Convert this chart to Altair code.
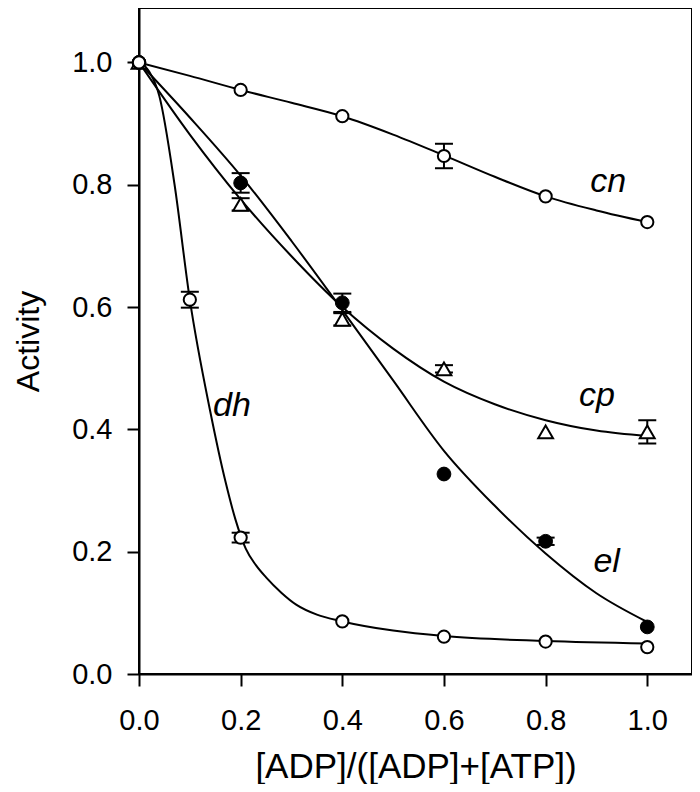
import altair as alt
import pandas as pd

# ---- measured data points ----
X_POINTS = [0.0, 0.2, 0.4, 0.6, 0.8, 1.0]
DH_X = [0.0, 0.1, 0.2, 0.4, 0.6, 0.8, 1.0]

CN_Y = [1.0, 0.955, 0.912, 0.847, 0.781, 0.739]
CN_ERR = [0, 0, 0, 0.020, 0, 0]
EL_Y = [1.0, 0.803, 0.607, 0.327, 0.217, 0.077]
EL_ERR = [0, 0.016, 0.015, 0, 0.006, 0]
CP_Y = [1.0, 0.768, 0.580, 0.499, 0.396, 0.396]
CP_ERR = [0, 0.010, 0.010, 0.006, 0, 0.019]
DH_Y = [1.0, 0.612, 0.223, 0.086, 0.061, 0.053, 0.044]
DH_ERR = [0, 0.013, 0.008, 0, 0, 0, 0]

# ---- fitted curves ----
FIT_X = [0.0, 0.1, 0.2, 0.3, 0.4, 0.5, 0.6, 0.7, 0.8, 0.9, 1.0]
CN_FIT = [1.0, 0.978, 0.955, 0.934, 0.912, 0.882, 0.848, 0.813, 0.781, 0.758, 0.739]
EL_FIT = [1.0, 0.910, 0.815, 0.708, 0.595, 0.480, 0.365, 0.275, 0.197, 0.132, 0.085]
CP_FIT = [1.0, 0.882, 0.776, 0.683, 0.600, 0.532, 0.478, 0.441, 0.415, 0.398, 0.389]
DH_FIT_X = [0.0, 0.02, 0.04, 0.07, 0.1, 0.14, 0.17, 0.19, 0.21, 0.23, 0.25, 0.28, 0.31,
            0.35, 0.4, 0.5, 0.6, 0.8, 1.0]
DH_FIT = [1.0, 0.985, 0.945, 0.80, 0.612, 0.43, 0.315, 0.252, 0.205, 0.178, 0.158, 0.133, 0.113,
          0.097, 0.086, 0.071, 0.062, 0.054, 0.050]

LABELS = ["cn", "cp", "el", "dh"]
LABEL_X = [0.923, 0.901, 0.920, 0.183]
LABEL_Y = [0.788, 0.438, 0.166, 0.422]

X_TICKS = [0.0, 0.2, 0.4, 0.6, 0.8, 1.0]
Y_TICKS = [0.0, 0.2, 0.4, 0.6, 0.8, 1.0]

# ---- tables ----
rows = []
for name, xs, ys, es in [("cn", X_POINTS, CN_Y, CN_ERR), ("el", X_POINTS, EL_Y, EL_ERR),
                         ("cp", X_POINTS, CP_Y, CP_ERR), ("dh", DH_X, DH_Y, DH_ERR)]:
    for xv, yv, ev in zip(xs, ys, es):
        rows.append({"series": name, "x": xv, "y": yv, "lo": yv - ev, "hi": yv + ev, "err": ev})
pts = pd.DataFrame(rows)
errs = pts[pts["err"] > 0]

fit_rows = []
for name, xs, ys in [("cn", FIT_X, CN_FIT), ("el", FIT_X, EL_FIT), ("cp", FIT_X, CP_FIT), ("dh", DH_FIT_X, DH_FIT)]:
    for xv, yv in zip(xs, ys):
        fit_rows.append({"series": name, "x": xv, "y": yv})
fits = pd.DataFrame(fit_rows)

labels = pd.DataFrame({"text": LABELS, "x": LABEL_X, "y": LABEL_Y})

xscale = alt.Scale(domain=[0, 1.088], nice=False, zero=False)
yscale = alt.Scale(domain=[0, 1.089], nice=False, zero=False)
xaxis = alt.Axis(values=X_TICKS, format=".1f", title="[ADP]/([ADP]+[ATP])", labelFlush=False)
yaxis = alt.Axis(values=Y_TICKS, format=".1f", title="Activity", labelFlush=False)

X = alt.X("x:Q", scale=xscale, axis=xaxis)
Y = alt.Y("y:Q", scale=yscale, axis=yaxis)

lines = alt.Chart(fits).mark_line(color="black", strokeWidth=2, interpolate="monotone").encode(
    x=X, y=Y, detail="series:N")

bars = alt.Chart(errs).mark_rule(color="black", strokeWidth=2, opacity=1).encode(
    x=X, y=alt.Y("lo:Q", scale=yscale, axis=yaxis), y2="hi:Q")
caps_hi = alt.Chart(errs).mark_tick(color="black", thickness=2, size=18, orient="horizontal", opacity=1).encode(
    x=X, y=alt.Y("hi:Q", scale=yscale, axis=yaxis))
caps_lo = alt.Chart(errs).mark_tick(color="black", thickness=2, size=18, orient="horizontal", opacity=1).encode(
    x=X, y=alt.Y("lo:Q", scale=yscale, axis=yaxis))

open_pts = alt.Chart(pts[pts["series"].isin(["cn", "dh"])]).mark_point(
    shape="circle", filled=True, fill="white", stroke="black", strokeWidth=2, size=150, opacity=1).encode(x=X, y=Y)
filled_pts = alt.Chart(pts[pts["series"] == "el"]).mark_point(
    shape="circle", filled=True, fill="black", stroke="black", strokeWidth=1, size=190, opacity=1).encode(x=X, y=Y)
tri_pts = alt.Chart(pts[pts["series"] == "cp"]).mark_point(
    shape="triangle-up", filled=True, fill="white", stroke="black", strokeWidth=2, size=220, opacity=1).encode(x=X, y=Y)

text = alt.Chart(labels).mark_text(font="Liberation Sans", fontStyle="italic", fontSize=34,
                                   align="center", baseline="alphabetic", color="black").encode(
    x=X, y=Y, text="text:N")

chart = alt.layer(lines, bars, caps_hi, caps_lo, tri_pts, filled_pts, open_pts, text).properties(
    width=684, height=776, padding={"left": 4, "top": 0, "right": 0, "bottom": 0},
    autosize=alt.AutoSizeParams(type="fit", contains="padding")
).configure_view(stroke="black", strokeWidth=2).configure_axis(
    grid=False, domainColor="black", domainWidth=2, tickColor="black", tickWidth=2, tickSize=12,
    labelFont="Liberation Sans", labelFontSize=29, labelColor="black", labelPadding=15,
    titleFont="Liberation Sans", titleFontSize=32, titleColor="black", titleFontWeight="normal"
).configure_axisX(labelPadding=20, titlePadding=14, titleFontSize=35).configure_axisY(titlePadding=26)

chart.save("out.html", embed_options={"renderer": "svg", "actions": False})
